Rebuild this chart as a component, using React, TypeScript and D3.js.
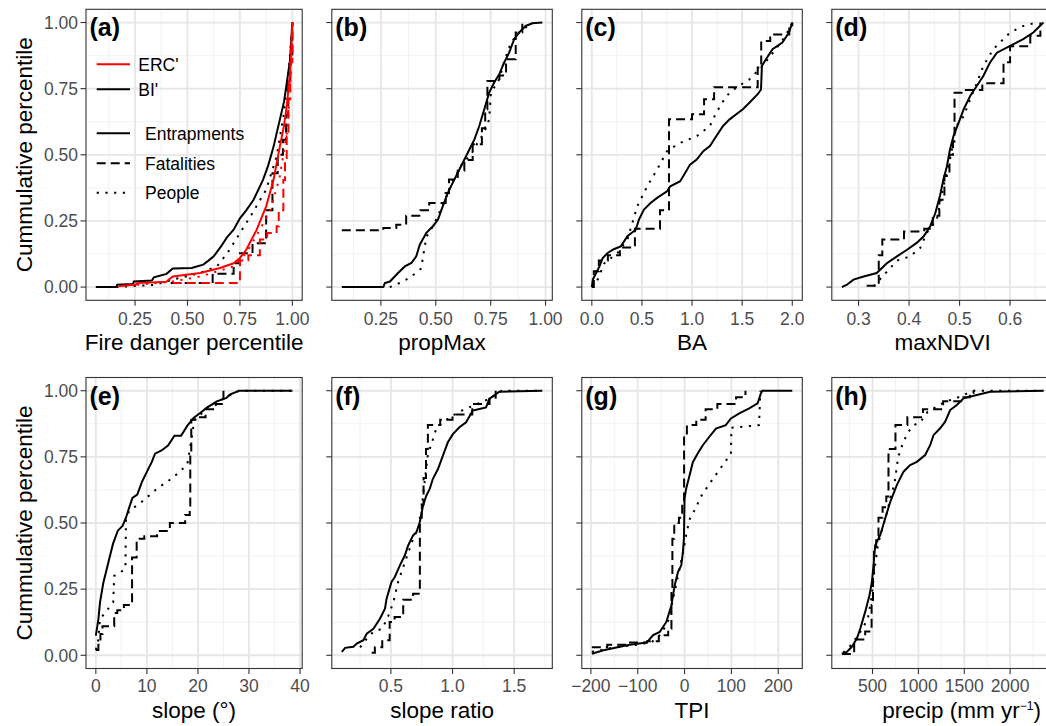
import React from 'react';
import * as d3 from 'd3';

type Pt = [number, number];

// ---------------- data ----------------
const yTicks = [0, 0.25, 0.5, 0.75, 1];

// (a) fire danger percentile
const fireBiEntrap: Pt[] = [[0.063,0],[0.16,0],[0.165,0.009],[0.24,0.012],[0.245,0.021],[0.33,0.025],[0.34,0.037],[0.40,0.05],[0.43,0.07],[0.52,0.072],[0.575,0.085],[0.60,0.1],[0.625,0.116],[0.66,0.154],[0.69,0.19],[0.72,0.217],[0.75,0.26],[0.78,0.29],[0.815,0.33],[0.86,0.405],[0.885,0.46],[0.91,0.53],[0.94,0.632],[0.96,0.70],[0.973,0.77],[0.989,0.86],[1.0,1.0]];
const fireBiFatal: Pt[] = [[0.42,0.015],[0.62,0.05],[0.72,0.09],[0.75,0.128],[0.81,0.166],[0.875,0.29],[0.905,0.43],[0.93,0.50],[0.955,0.557],[0.97,0.65],[0.98,0.77],[0.99,0.88],[1.0,1.0]];
const fireBiPeople: Pt[] = [[0.16,0],[0.34,0.008],[0.43,0.028],[0.56,0.053],[0.64,0.078],[0.69,0.128],[0.75,0.204],[0.81,0.28],[0.875,0.368],[0.925,0.494],[0.957,0.645],[0.981,0.796],[1.0,1.0]];
const fireErcEntrap: Pt[] = [[0.17,0.003],[0.255,0.01],[0.26,0.015],[0.40,0.02],[0.41,0.028],[0.43,0.04],[0.56,0.053],[0.655,0.072],[0.72,0.09],[0.75,0.11],[0.78,0.141],[0.83,0.217],[0.875,0.305],[0.91,0.405],[0.94,0.53],[0.96,0.61],[0.973,0.683],[0.989,0.81],[1.0,1.0]];
const fireErcFatal: Pt[] = [[0.43,0.015],[0.75,0.10],[0.79,0.12],[0.845,0.18],[0.88,0.204],[0.925,0.23],[0.935,0.29],[0.957,0.405],[0.965,0.48],[0.973,0.57],[0.981,0.71],[0.99,0.85],[1.0,1.0]];
const fireErcPeople: Pt[] = [[0.26,0.009],[0.43,0.021],[0.56,0.04],[0.72,0.078],[0.78,0.128],[0.845,0.217],[0.895,0.29],[0.94,0.418],[0.973,0.58],[0.989,0.73],[1.0,1.0]];

// (b) propMax
const propEntrap: Pt[] = [[0.072,0],[0.261,0],[0.268,0.015],[0.291,0.021],[0.328,0.053],[0.359,0.078],[0.389,0.091],[0.411,0.116],[0.427,0.16],[0.457,0.205],[0.487,0.23],[0.51,0.255],[0.532,0.306],[0.555,0.356],[0.577,0.394],[0.6,0.432],[0.623,0.47],[0.653,0.52],[0.676,0.558],[0.698,0.609],[0.721,0.672],[0.743,0.735],[0.766,0.773],[0.789,0.804],[0.811,0.848],[0.834,0.886],[0.857,0.937],[0.879,0.962],[0.909,0.987],[0.94,0.997],[0.985,1.0]];
const propFatal: Pt[] = [[0.072,0.215],[0.261,0.223],[0.32,0.236],[0.365,0.27],[0.43,0.29],[0.47,0.318],[0.545,0.356],[0.56,0.407],[0.6,0.44],[0.63,0.48],[0.668,0.54],[0.71,0.60],[0.725,0.672],[0.735,0.779],[0.79,0.80],[0.82,0.861],[0.864,0.962],[0.894,1.0]];
const propPeople: Pt[] = [[0.29,0],[0.32,0.009],[0.365,0.028],[0.41,0.053],[0.433,0.07],[0.457,0.19],[0.487,0.23],[0.532,0.31],[0.577,0.40],[0.623,0.47],[0.66,0.50],[0.69,0.545],[0.72,0.583],[0.743,0.634],[0.751,0.735],[0.789,0.785],[0.811,0.85],[0.842,0.924],[0.879,0.962],[0.94,1.0]];

// (c) BA
const baEntrap: Pt[] = [[0,0],[0.01,0.028],[0.043,0.053],[0.076,0.078],[0.109,0.11],[0.158,0.129],[0.224,0.144],[0.289,0.154],[0.355,0.192],[0.438,0.217],[0.47,0.255],[0.52,0.293],[0.586,0.318],[0.651,0.337],[0.75,0.362],[0.783,0.381],[0.882,0.40],[0.98,0.463],[1.046,0.482],[1.112,0.514],[1.178,0.533],[1.243,0.571],[1.309,0.609],[1.375,0.634],[1.441,0.653],[1.507,0.672],[1.572,0.697],[1.655,0.729],[1.688,0.747],[1.697,0.836],[1.737,0.861],[1.803,0.899],[1.901,0.924],[1.967,0.962],[2.0,1.0]];
const baFatal: Pt[] = [[0,0],[0.02,0.06],[0.07,0.1],[0.16,0.12],[0.28,0.15],[0.43,0.22],[0.68,0.29],[0.77,0.634],[1.0,0.653],[1.12,0.71],[1.22,0.755],[1.655,0.83],[1.69,0.93],[1.78,0.955],[1.97,0.99],[2.0,1.0]];
const baPeople: Pt[] = [[0,0],[0.06,0.03],[0.125,0.09],[0.257,0.129],[0.355,0.18],[0.454,0.306],[0.553,0.381],[0.651,0.444],[0.75,0.514],[0.88,0.545],[1.046,0.57],[1.178,0.609],[1.243,0.66],[1.342,0.722],[1.44,0.754],[1.572,0.785],[1.704,0.836],[1.836,0.9],[1.934,0.95],[2.0,1.0]];

// (d) maxNDVI
const ndviEntrap: Pt[] = [[0.267,0],[0.277,0.009],[0.29,0.028],[0.31,0.04],[0.336,0.053],[0.356,0.09],[0.376,0.116],[0.396,0.141],[0.415,0.167],[0.429,0.192],[0.442,0.23],[0.452,0.28],[0.461,0.343],[0.468,0.407],[0.475,0.457],[0.481,0.52],[0.488,0.571],[0.498,0.621],[0.508,0.672],[0.521,0.722],[0.534,0.76],[0.547,0.798],[0.56,0.848],[0.574,0.886],[0.6,0.912],[0.626,0.937],[0.646,0.962],[0.666,1.0]];
const ndviFatal: Pt[] = [[0.316,0.005],[0.34,0.12],[0.347,0.18],[0.39,0.21],[0.43,0.22],[0.447,0.27],[0.46,0.33],[0.47,0.42],[0.48,0.5],[0.487,0.55],[0.49,0.735],[0.51,0.745],[0.545,0.77],[0.587,0.85],[0.6,0.91],[0.64,0.95],[0.66,1.0]];
const ndviPeople: Pt[] = [[0.33,0.003],[0.376,0.1],[0.402,0.116],[0.422,0.148],[0.435,0.205],[0.455,0.255],[0.468,0.38],[0.481,0.482],[0.494,0.61],[0.508,0.646],[0.521,0.71],[0.534,0.77],[0.547,0.836],[0.567,0.9],[0.6,0.962],[0.626,0.987],[0.653,1.0]];

// (e) slope
const slopeEntrap: Pt[] = [[0,0.074],[0.5,0.136],[0.82,0.2],[1.46,0.273],[2.09,0.322],[2.73,0.372],[3.36,0.421],[4.31,0.471],[5.26,0.49],[5.9,0.52],[6.53,0.558],[7.17,0.595],[8.12,0.607],[9.07,0.657],[10.02,0.694],[10.97,0.731],[11.6,0.762],[12.87,0.774],[14.14,0.793],[15.4,0.83],[16.7,0.83],[17.9,0.867],[19.2,0.898],[20.5,0.917],[21.7,0.935],[23.7,0.96],[25.6,0.973],[26.2,0.985],[28.1,1.0],[38.5,1.0]];
const slopeFatal: Pt[] = [[0,0.02],[0.5,0.04],[0.9,0.08],[1.3,0.11],[3.6,0.16],[4.2,0.17],[5.5,0.19],[7.0,0.2],[7.1,0.37],[8.0,0.44],[9.5,0.45],[12.0,0.47],[14.5,0.5],[17.5,0.53],[18.4,0.55],[18.5,0.77],[18.7,0.89],[19.5,0.9],[21.5,0.93],[23.5,0.95],[25.0,1.0]];
const slopePeople: Pt[] = [[0,0.02],[0.5,0.06],[0.8,0.136],[3.4,0.2],[3.6,0.3],[5.3,0.32],[5.8,0.33],[5.9,0.51],[6.5,0.545],[9,0.58],[12,0.63],[15,0.67],[17.9,0.72],[18.6,0.8],[19.3,0.89],[20.5,0.91],[22,0.94],[24,0.96],[26,0.98],[28,1.0],[38.5,1.0]];

// (f) slope ratio
const ratioEntrap: Pt[] = [[0.102,0.013],[0.129,0.028],[0.196,0.032],[0.223,0.044],[0.277,0.057],[0.304,0.082],[0.358,0.1],[0.411,0.138],[0.452,0.176],[0.465,0.214],[0.505,0.277],[0.532,0.296],[0.573,0.34],[0.613,0.377],[0.64,0.415],[0.68,0.453],[0.707,0.465],[0.734,0.503],[0.761,0.566],[0.788,0.604],[0.815,0.629],[0.841,0.667],[0.882,0.704],[0.922,0.755],[0.962,0.805],[1.003,0.836],[1.056,0.862],[1.11,0.881],[1.164,0.925],[1.218,0.931],[1.272,0.937],[1.298,0.969],[1.379,0.996],[1.728,1.0]];
const ratioFatal: Pt[] = [[0.344,0.01],[0.37,0.03],[0.43,0.057],[0.49,0.126],[0.53,0.145],[0.6,0.21],[0.68,0.233],[0.735,0.52],[0.75,0.57],[0.765,0.67],[0.785,0.78],[0.8,0.87],[0.9,0.89],[1.0,0.91],[1.16,0.95],[1.3,0.97],[1.35,1.0]];
const ratioPeople: Pt[] = [[0.25,0.03],[0.3,0.06],[0.36,0.09],[0.43,0.1],[0.48,0.15],[0.52,0.2],[0.56,0.28],[0.62,0.36],[0.68,0.44],[0.74,0.5],[0.76,0.6],[0.78,0.68],[0.8,0.76],[0.83,0.8],[0.87,0.86],[0.95,0.89],[1.05,0.92],[1.15,0.94],[1.3,0.97],[1.4,1.0],[1.728,1.0]];

// (g) TPI
const tpiEntrap: Pt[] = [[-198,0.006],[-173,0.019],[-138,0.032],[-117,0.04],[-81,0.048],[-67,0.076],[-53,0.088],[-39,0.126],[-28,0.189],[-21,0.265],[-14,0.315],[-7,0.34],[-3.5,0.39],[-1.4,0.44],[0,0.593],[3.5,0.63],[10.6,0.68],[17.7,0.73],[28,0.763],[39,0.794],[53,0.826],[67,0.857],[88,0.87],[99,0.895],[117,0.914],[138,0.933],[156,0.952],[163,0.99],[166,1.0],[230,1.0]];
const tpiFatal: Pt[] = [[-198,0.03],[-165,0.04],[-120,0.048],[-80,0.053],[-55,0.076],[-35,0.1],[-28,0.24],[-26,0.44],[-22,0.5],[-12,0.52],[-5,0.58],[-1,0.83],[5,0.87],[25,0.89],[45,0.93],[70,0.95],[110,0.975],[130,1.0]];
const tpiPeople: Pt[] = [[-198,0.013],[-150,0.03],[-100,0.04],[-70,0.05],[-50,0.08],[-35,0.13],[-20,0.25],[-8,0.35],[0,0.42],[5,0.47],[12,0.52],[22,0.55],[35,0.6],[50,0.64],[70,0.69],[90,0.74],[99,0.76],[100,0.86],[159,0.87],[162,1.0]];

// (h) precip
const precipEntrap: Pt[] = [[166,0.006],[220,0.013],[275,0.032],[329,0.063],[366,0.1],[420,0.164],[467,0.227],[493,0.277],[511,0.34],[529,0.416],[584,0.454],[638,0.517],[693,0.58],[765,0.643],[838,0.694],[910,0.719],[983,0.731],[1074,0.757],[1128,0.794],[1165,0.832],[1237,0.858],[1292,0.883],[1346,0.927],[1419,0.946],[1492,0.971],[1637,0.984],[1782,0.996],[2363,1.0]];
const precipFatal: Pt[] = [[166,0.005],[300,0.06],[420,0.09],[490,0.19],[505,0.31],[515,0.39],[540,0.45],[565,0.52],[610,0.56],[650,0.6],[674,0.78],[750,0.87],[880,0.9],[1050,0.93],[1270,0.96],[1490,0.975],[1560,0.99],[1600,1.0]];
const precipPeople: Pt[] = [[180,0.01],[270,0.04],[330,0.07],[390,0.1],[450,0.14],[490,0.22],[520,0.32],[560,0.42],[600,0.47],[650,0.53],[700,0.6],[740,0.65],[780,0.75],[830,0.8],[880,0.84],[950,0.87],[1020,0.88],[1100,0.92],[1200,0.94],[1300,0.96],[1400,0.97],[1500,0.985],[1600,1.0],[2363,1.0]];

const fireTicks = [0.25, 0.5, 0.75, 1.0];
const propTicks = [0.25, 0.5, 0.75, 1.0];
const baTicks = [0, 0.5, 1.0, 1.5, 2.0];
const ndviTicks = [0.3, 0.4, 0.5, 0.6];
const slopeTicks = [0, 10, 20, 30, 40];
const ratioTicks = [0.5, 1.0, 1.5];
const tpiTicks = [-200, -100, 0, 100, 200];
const precipTicks = [500, 1000, 1500, 2000];

const indexLabels = ["ERC'", "BI'"];
const groupLabels = ['Entrapments', 'Fatalities', 'People'];

// ---------------- layout ----------------
const W = 1046, H = 726;
const colLeft = [86, 331.8, 581.8, 831.8];
const colRight = [302.2, 552.3, 802.3, 1053.5];
const rowTop = [9.3, 377.5];
const rowBottom = [300.3, 668.5];
const tickLabelDy = [24.5, 23.3];
const titleDy = [50, 49.5];
const FONT = '"Liberation Sans", Arial, Helvetica, sans-serif';
const RED = '#FF0000';
const DASH: Record<string, string | undefined> = { solid: undefined, dashed: '9,5', dotted: '2.2,6.5' };

type Series = { data: Pt[]; color: string; type: 'solid' | 'dashed' | 'dotted' };
type Spec = { label: string; title: React.ReactNode; ticks: number[]; fmt: string; series: Series[]; titleDx?: number };

const grp = (e: Pt[], f: Pt[], p: Pt[], color = '#000'): Series[] => [
  { data: e, color, type: 'solid' },
  { data: f, color, type: 'dashed' },
  { data: p, color, type: 'dotted' },
];

const panels: Spec[] = [
  { label: '(a)', title: 'Fire danger percentile', ticks: fireTicks, fmt: '.2f',
    series: [...grp(fireBiEntrap, fireBiFatal, fireBiPeople), ...grp(fireErcEntrap, fireErcFatal, fireErcPeople, RED)] },
  { label: '(b)', title: 'propMax', ticks: propTicks, fmt: '.2f', series: grp(propEntrap, propFatal, propPeople) },
  { label: '(c)', title: 'BA', ticks: baTicks, fmt: '.1f', series: grp(baEntrap, baFatal, baPeople) },
  { label: '(d)', title: 'maxNDVI', ticks: ndviTicks, fmt: '.1f', series: grp(ndviEntrap, ndviFatal, ndviPeople) },
  { label: '(e)', title: 'slope (°)', ticks: slopeTicks, fmt: 'd', series: grp(slopeEntrap, slopeFatal, slopePeople) },
  { label: '(f)', title: 'slope ratio', ticks: ratioTicks, fmt: '.1f', series: grp(ratioEntrap, ratioFatal, ratioPeople) },
  { label: '(g)', title: 'TPI', ticks: tpiTicks, fmt: 'd', series: grp(tpiEntrap, tpiFatal, tpiPeople) },
  { label: '(h)', title: <>precip (mm yr<tspan dy={-8} fontSize={12}>−1</tspan><tspan dy={8}>)</tspan></>,
    ticks: precipTicks, fmt: 'd', series: grp(precipEntrap, precipFatal, precipPeople), titleDx: 19 },
];

function minors(ticks: number[], dom: number[]) {
  const s = ticks[1] - ticks[0];
  const out: number[] = [];
  for (let v = ticks[0] - s / 2; v <= ticks[ticks.length - 1] + s / 2 + 1e-9; v += s) {
    if (v >= dom[0] && v <= dom[1]) out.push(v);
  }
  return out;
}

function Panel({ spec, idx }: { spec: Spec; idx: number }) {
  const col = idx % 4, row = Math.floor(idx / 4);
  const x0 = colLeft[col], x1 = colRight[col], y0 = rowTop[row], y1 = rowBottom[row];
  const xs = spec.series.flatMap((s) => s.data.map((d) => d[0]));
  const mn = d3.min(xs)!, mx = d3.max(xs)!;
  const pad = (mx - mn) * 0.05;
  const x = d3.scaleLinear().domain([mn - pad, mx + pad]).range([x0, x1]);
  const y = d3.scaleLinear().domain([-0.05, 1.05]).range([y1, y0]);
  const dom = x.domain();
  const xMaj = spec.ticks.filter((t) => t >= dom[0] && t <= dom[1]);
  const xMin = minors(spec.ticks, dom);
  const yMin = minors(yTicks, y.domain());
  const f = d3.format(spec.fmt);
  const clipId = 'clip' + idx;

  return (
    <g>
      <defs>
        <clipPath id={clipId}><rect x={x0} y={y0} width={x1 - x0} height={y1 - y0} /></clipPath>
      </defs>
      <rect x={x0} y={y0} width={x1 - x0} height={y1 - y0} fill="#fff" />
      <g clipPath={`url(#${clipId})`}>
        {xMin.map((v) => <line key={'xm' + v} x1={x(v)} x2={x(v)} y1={y0} y2={y1} stroke="#F2F2F2" strokeWidth={1} />)}
        {yMin.map((v) => <line key={'ym' + v} x1={x0} x2={x1} y1={y(v)} y2={y(v)} stroke="#F2F2F2" strokeWidth={1} />)}
        {xMaj.map((v) => <line key={'xM' + v} x1={x(v)} x2={x(v)} y1={y0} y2={y1} stroke="#E6E6E6" strokeWidth={1.8} />)}
        {yTicks.map((v) => <line key={'yM' + v} x1={x0} x2={x1} y1={y(v)} y2={y(v)} stroke="#E6E6E6" strokeWidth={1.8} />)}
        {spec.series.map((s, i) => {
          const gen = d3.line<Pt>().x((d) => x(d[0])).y((d) => y(d[1]))
            .curve(s.type === 'dashed' ? d3.curveStepAfter : d3.curveLinear);
          return <path key={i} d={gen(s.data) || ''} fill="none" stroke={s.color} strokeWidth={2}
            strokeDasharray={DASH[s.type]} strokeLinejoin="miter" />;
        })}
      </g>
      <rect x={x0} y={y0} width={x1 - x0} height={y1 - y0} fill="none" stroke="#333" strokeWidth={1.1} />
      {/* x axis */}
      {xMaj.map((v) => (
        <g key={'xt' + v}>
          <line x1={x(v)} x2={x(v)} y1={y1} y2={y1 + 5.5} stroke="#333" strokeWidth={1.1} />
          <text x={x(v)} y={y1 + tickLabelDy[row]} textAnchor="middle" fontSize={17.5} fill="#4D4D4D" fontFamily={FONT}>{f(v)}</text>
        </g>
      ))}
      <text x={(x0 + x1) / 2 + (spec.titleDx || 0)} y={y1 + titleDy[row]} textAnchor="middle"
        fontSize={22.5} fill="#000" fontFamily={FONT}>{spec.title}</text>
      {/* y axis */}
      {yTicks.map((v) => (
        <g key={'yt' + v}>
          <line x1={x0 - 5.5} x2={x0} y1={y(v)} y2={y(v)} stroke="#333" strokeWidth={1.1} />
          {col === 0 && (
            <text x={x0 - 8} y={y(v)} dy="0.36em" textAnchor="end" fontSize={17.5} fill="#4D4D4D" fontFamily={FONT}>
              {d3.format('.2f')(v)}
            </text>
          )}
        </g>
      ))}
      {col === 0 && (
        <text transform={`translate(32,${(y0 + y1) / 2}) rotate(-90)`} textAnchor="middle" fontSize={22.5}
          fontFamily={FONT} fill="#000">Cummulative percentile</text>
      )}
      <text x={x0 + 3.5} y={y0 + 27} fontSize={25} fontWeight="bold" fontFamily={FONT} fill="#000">{spec.label}</text>
    </g>
  );
}

function Legend() {
  const lx0 = 96.7, lx1 = 130;
  const idxRows = [
    { label: indexLabels[0], color: RED, y: 64.3 },
    { label: indexLabels[1], color: '#000', y: 89.3 },
  ];
  const types: Series['type'][] = ['solid', 'dashed', 'dotted'];
  const grpY = [133.3, 163.3, 192.7];
  return (
    <g fontFamily={FONT} fontSize={17.5}>
      {idxRows.map((r) => (
        <g key={r.label}>
          <line x1={lx0} x2={lx1} y1={r.y} y2={r.y} stroke={r.color} strokeWidth={2} />
          <text x={138.3} y={r.y} dy="0.36em" fill="#000">{r.label}</text>
        </g>
      ))}
      {groupLabels.map((g, i) => (
        <g key={g}>
          <line x1={lx0} x2={lx1} y1={grpY[i]} y2={grpY[i]} stroke="#000" strokeWidth={2} strokeDasharray={DASH[types[i]]} />
          <text x={145} y={grpY[i]} dy="0.36em" fill="#000">{g}</text>
        </g>
      ))}
    </g>
  );
}

export default function App() {
  return (
    <svg width={W} height={H} style={{ position: 'absolute', left: 0, top: 0, background: '#fff' }}>
      <rect width={W} height={H} fill="#fff" />
      {panels.map((p, i) => <Panel key={p.label} spec={p} idx={i} />)}
      <Legend />
    </svg>
  );
}
